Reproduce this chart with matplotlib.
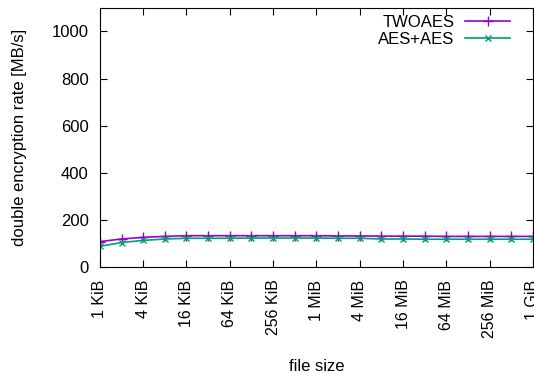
import numpy as np
import matplotlib
matplotlib.use("Agg")
import matplotlib.pyplot as plt

plt.rcParams['font.family'] = ['Liberation Sans', 'DejaVu Sans']

# file sizes in bytes: 1 KiB .. 1 GiB, doubling
sizes = [2**k for k in range(10, 31)]
twoaes = [108, 119, 126, 130, 133, 133, 133, 133, 133, 133, 133,
          132, 132, 131, 131, 131, 130, 130, 130, 130, 130]
aesaes = [88, 104, 113, 119, 122, 122, 122, 123, 123, 123, 123,
          122, 122, 119, 119, 118, 118, 118, 118, 118, 118]

tick_sizes = [2**k for k in range(10, 31, 2)]
tick_labels = ['1 KiB', '4 KiB', '16 KiB', '64 KiB', '256 KiB', '1 MiB',
               '4 MiB', '16 MiB', '64 MiB', '256 MiB', '1 GiB']

fs = 12

fig = plt.figure(figsize=(5.34, 3.74), dpi=100)
ax = fig.add_axes([0.187, 0.286, 0.811, 0.693])

ax.plot(sizes, twoaes, color='#9400d3', marker='+', markersize=7, lw=1.2,
        label='TWOAES')
ax.plot(sizes, aesaes, color='#009e73', marker='x', markersize=4.5, lw=1.2,
        label='AES+AES')

ax.set_xscale('log', base=2)
ax.set_xlim(sizes[0], sizes[-1])
ax.set_ylim(0, 1100)
ax.set_xticks(tick_sizes)
ax.set_xticklabels(tick_labels, rotation=90, fontsize=11.5)
ax.minorticks_off()
ax.set_yticks([0, 200, 400, 600, 800, 1000])
ax.tick_params(axis='both', direction='in', top=True, right=True, length=5)
ax.tick_params(axis='x', pad=9, labelsize=11.5)
ax.tick_params(axis='y', pad=8, labelsize=fs)

ax.set_xlabel('file size', fontsize=fs)
ax.set_ylabel('double encryption rate [MB/s]', fontsize=fs)
ax.xaxis.set_label_coords(0.5, -0.355)
ax.yaxis.set_label_coords(-0.168, 0.5)

ax.legend(loc='upper right', frameon=False, markerfirst=False, fontsize=fs,
          handlelength=2.7, borderaxespad=0.2, labelspacing=0.1,
          handletextpad=0.65, borderpad=0.0, bbox_to_anchor=(0.955, 0.985))

fig.savefig('out.png', dpi=100)
